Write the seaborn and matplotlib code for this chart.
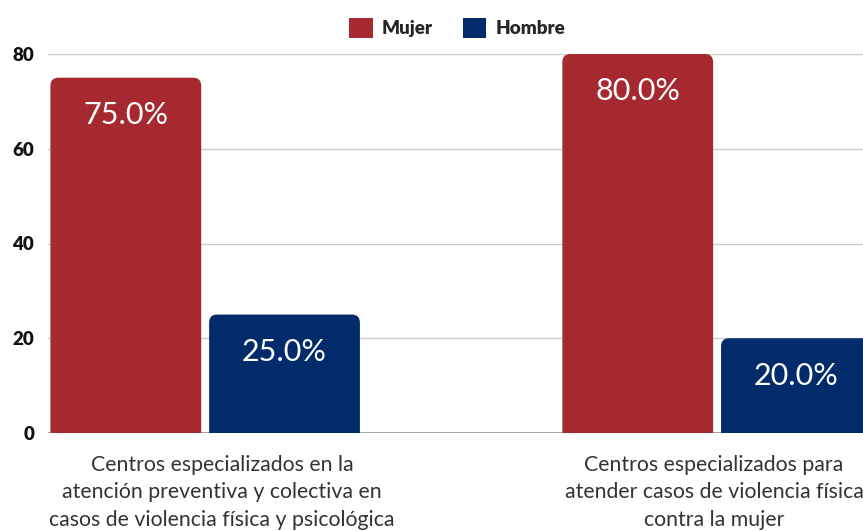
import matplotlib
matplotlib.use("Agg")
import matplotlib.pyplot as plt
import matplotlib.transforms as mtransforms
import seaborn as sns
import pandas as pd
from matplotlib.patches import FancyBboxPatch, Patch

# datos
categorias = [
    "Centros especializados en la\natención preventiva y colectiva en\ncasos de violencia física y psicológica",
    "Centros especializados para\natender casos de violencia física\ncontra la mujer",
]
mujer = [75.0, 80.0]
hombre = [25.0, 20.0]
sexos = ["Mujer", "Hombre"]
colores = {"Mujer": "#A5292F", "Hombre": "#022B6B"}
ticks_y = [0, 20, 40, 60, 80]

df = pd.DataFrame({
    "categoria": categorias * 2,
    "sexo": ["Mujer"] * 2 + ["Hombre"] * 2,
    "valor": mujer + hombre,
})

sns.set_style("white")
plt.rcParams["font.family"] = ["Lato", "DejaVu Sans"]

fig = plt.figure(figsize=(8.63, 5.31), dpi=100)
ax = fig.add_axes([48 / 863, 98 / 531, 1 - 48 / 863, 379 / 531])

sns.barplot(data=df, x="categoria", y="valor", hue="sexo", palette=colores,
            hue_order=sexos, width=0.62, gap=0.05, ax=ax, legend=False,
            saturation=1)

ax.set_ylim(0, 80)
ax.set_xlim(-0.307, 1.285)

# barras con esquinas redondeadas arriba
px_x = 512.0  # pixeles por categoria
px_y = 379 / 80
r = 8 / px_x
aspect = (8 / px_y) / r
for p in list(ax.patches):
    x, w, h = p.get_x(), p.get_width(), p.get_height()
    c = p.get_facecolor()
    p.remove()
    fb = FancyBboxPatch((x, -4), w, h + 4,
                        boxstyle=f"round,pad=0,rounding_size={r}",
                        mutation_aspect=aspect, facecolor=c, edgecolor="none",
                        zorder=2)
    ax.add_patch(fb)
    ax.text(x + w / 2, h - 7.9, f"{h:.1f}%", color="white", fontsize=22,
            ha="center", va="center", zorder=3)

ax.set_yticks(ticks_y)
ax.set_yticklabels([str(t) for t in ticks_y])
for t in ax.get_yticklabels():
    t.set_fontsize(13.5)
    t.set_fontweight("heavy")
    t.set_color("#111111")
ax.yaxis.grid(True, color="#cccccc", linewidth=1)
ax.set_axisbelow(True)
ax.axhline(0, color="#999999", linewidth=1.2, zorder=1)
ax.tick_params(axis="y", length=0, pad=10)
ax.tick_params(axis="x", length=0, pad=16)
ax.set_xticks([0, 1])
ax.set_xticklabels(categorias, fontsize=15.3, color="#333333", linespacing=1.45)
desplaz = [17, -3]
for t, d in zip(ax.get_xticklabels(), desplaz):
    t.set_transform(t.get_transform() +
                    mtransforms.ScaledTranslation(d / 100, 0, fig.dpi_scale_trans))
for s in ax.spines.values():
    s.set_visible(False)
ax.set_xlabel("")
ax.set_ylabel("")

handles = [Patch(facecolor=colores[s], edgecolor="none") for s in sexos]
fig.legend(handles, sexos, loc="center", bbox_to_anchor=(0.530, 0.948),
           ncol=2, frameon=False, handlelength=1.25, handleheight=1.25,
           handletextpad=0.5, columnspacing=1.6,
           prop={"weight": "heavy", "size": 13.5})

fig.savefig("out.png", dpi=100)
